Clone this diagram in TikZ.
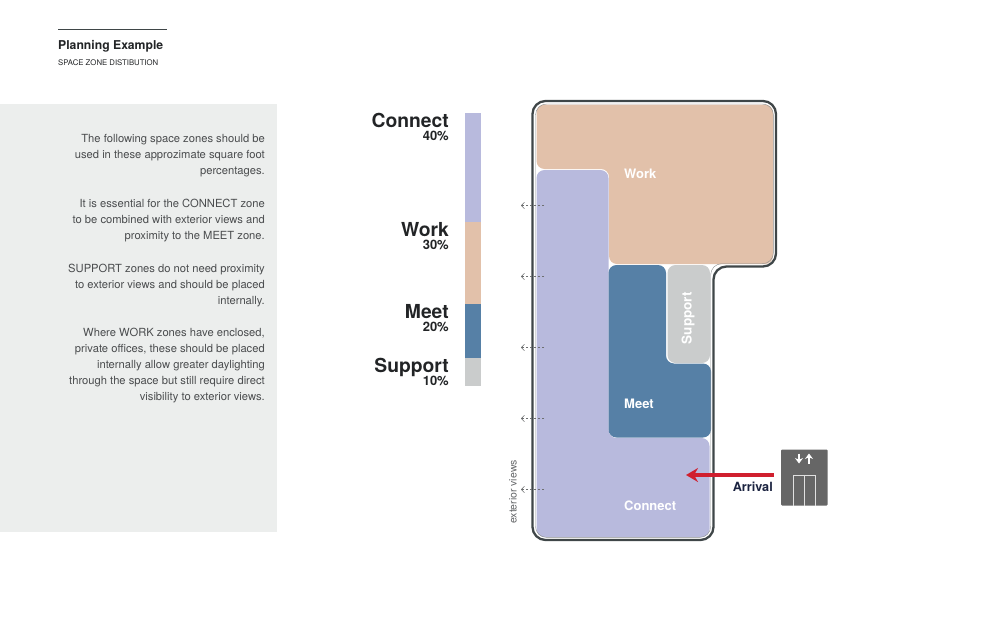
\documentclass[tikz,border=0pt]{standalone}
\usepackage{fontspec}
\setmainfont{TeX Gyre Heros}
\usetikzlibrary{positioning,arrows.meta}
\definecolor{nconnect}{HTML}{B8BADD}
\definecolor{nwork}{HTML}{E2C1AA}
\definecolor{nmeet}{HTML}{5680A6}
\definecolor{nsupport}{HTML}{CACCCC}
\definecolor{npanel}{HTML}{ECEEED}
\definecolor{nwall}{HTML}{3F4648}
\definecolor{ninkdark}{HTML}{222426}
\definecolor{nbody}{HTML}{4A4C4E}
\definecolor{nred}{HTML}{D01F2E}
\definecolor{nlift}{HTML}{666666}
\definecolor{nnavy}{HTML}{1B2340}
\newcommand{\fs}[2]{\fontsize{#1}{#2}\selectfont}

\begin{document}
\begin{tikzpicture}[x=1pt,y=-1pt,
  zone/.style={rounded corners=8pt},
  zonelabel/.style={anchor=west, inner sep=0pt, text=white, font=\fs{13}{15}\bfseries},
  bigname/.style={anchor=base east, inner sep=0pt, text=ninkdark, font=\fs{19.3}{21}\bfseries},
  percent/.style={anchor=base east, inner sep=0pt, text=ninkdark, font=\fs{13}{15}\bfseries},
  brief/.style={anchor=north east, inner sep=0pt, align=right, text=nbody, font=\fs{11.2}{16}},
  viewline/.style={nbody!80, dashed, dash pattern=on 2.5pt off 1.5pt, line width=0.5pt}]
 \useasboundingbox (0,0) rectangle (990,640);
 % title block
 \draw[nwall, line width=1pt] (58,29.5) -- (167,29.5);
 \node[anchor=base west, inner sep=0pt, text=ninkdark, font=\fs{12.2}{15}] (title) at (58,49) {\textbf{Planning Example}};
 \node[anchor=base west, inner sep=0pt, text=ninkdark, font=\fs{7.75}{10}] (subtitle) at (58,65) {SPACE ZONE DISTIBUTION};
 % left panel
 \fill[npanel] (0,104) rectangle (276.5,531.5);
 \node[brief] (briefa) at (265,134.5) {The following space zones should be\\used in these approzimate square foot\\percentages.};
 \node[brief] (briefb) at (265,198.5) {It is essential for the CONNECT zone\\to be combined with exterior views and\\proximity to the MEET zone.};
 \node[brief] (briefc) at (265,263.5) {SUPPORT zones do not need proximity\\to exterior views and should be placed\\internally.};
 \node[brief] (briefd) at (265,327.5) {Where WORK zones have enclosed,\\private offices, these should be placed\\internally allow greater daylighting\\through the space but still require direct\\visibility to exterior views.};
 % legend bar
 \fill[nconnect] (464.5,113) rectangle (481,222);
 \fill[nwork] (464.5,222) rectangle (481,304);
 \fill[nmeet] (464.5,304) rectangle (481,358);
 \fill[nsupport] (464.5,358) rectangle (481,385.5);
 \node[bigname] (lconnect) at (449,127) {Connect};
 \node[percent] at (449,140) {40\%};
 \node[bigname] (lwork) at (449,236) {Work};
 \node[percent] at (449,249) {30\%};
 \node[bigname] (lmeet) at (449,318) {Meet};
 \node[percent] at (449,331) {20\%};
 \node[bigname] (lsupport) at (449,372.5) {Support};
 \node[percent] at (449,385.5) {10\%};
 % zones
 \fill[nwork, zone] (536.5,104.5) -- (773,104.5) -- (773,264) -- (609,264) -- (609,169) -- (536.5,169) -- cycle;
 \fill[nconnect, zone] (536.5,170) -- (608.5,170) -- (608.5,438) -- (709.5,438) -- (709.5,537) -- (536.5,537) -- cycle;
 \fill[nmeet, zone] (608.5,265) -- (666,265) -- (666,363.5) -- (711,363.5) -- (711,437.5) -- (608.5,437.5) -- cycle;
 \fill[nsupport, zone] (667.5,265) -- (710,265) -- (710,363) -- (667.5,363) -- cycle;
 % walls
 \draw[nwall, line width=2.3pt, rounded corners=13pt] (532.5,101) -- (776,101) -- (776,266.5) -- (713.5,266.5) -- (713.5,540) -- (532.5,540) -- cycle;
 \draw[nwall!60, line width=0.4pt, rounded corners=11pt] (535.5,104) -- (773.4,104) -- (773.4,263.7) -- (710.7,263.7) -- (710.7,537.4) -- (535.5,537.4) -- cycle;
 % zone names
 \node[zonelabel] (work) at (624,173.5) {Work};
 \node[zonelabel] (meet) at (624,403.5) {Meet};
 \node[zonelabel] (connect) at (624,505.5) {Connect};
 \node[zonelabel, font=\fs{13.5}{15}\bfseries, anchor=center, rotate=90] (support) at (688,318) {Support};
 % views
 \foreach \y in {205.5,276.5,347.5,418.5,489.5} {
  \coordinate (vs) at (544,\y);
  \coordinate (ve) at (521,\y);
  \draw[viewline, -{Straight Barb[length=3pt,width=6.5pt,line width=0.6pt]}] (vs) -- (ve);
 }
 \node[rotate=90, inner sep=0pt, text=nbody!85, font=\fs{10.5}{12}] (views) at (513,492) {exterior views};
 % lift and arrival
 \fill[nlift, rounded corners=1pt] (781,449.5) rectangle (827.5,505.5);
 \draw[white!80!nlift, line width=0.7pt] (793,505.5) -- (793,475.5) -- (815,475.5) -- (815,505.5);
 \draw[white!80!nlift, line width=0.7pt] (804,475.5) -- (804,505.5);
 \draw[white, line width=1.7pt, -{Stealth[length=5.5pt,width=8pt]}] (799,453.5) -- (799,463.5);
 \draw[white, line width=1.7pt, -{Stealth[length=5.5pt,width=8pt]}] (809,463.5) -- (809,453.5);
 \coordinate (liftdoor) at (773.5,475);
 \coordinate (entry) at (686,475);
 \draw[nred, line width=3.6pt, -{Stealth[length=12pt,width=14pt,inset=4pt]}] (liftdoor) -- (entry);
 \node[anchor=base east, inner sep=0pt, text=nnavy, font=\fs{12.7}{14}\bfseries] (arrival) at (773,491) {Arrival};
\end{tikzpicture}
\end{document}
